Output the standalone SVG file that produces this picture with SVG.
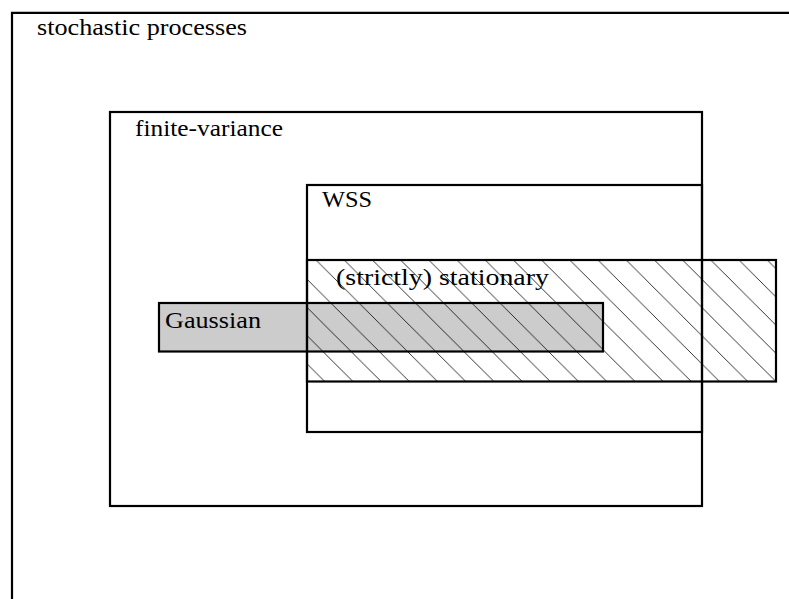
<svg xmlns="http://www.w3.org/2000/svg" width="789" height="599" viewBox="0 0 789 599">
<style>
.box{fill:none;stroke:#000;stroke-width:2.2}
text{font-family:'Liberation Serif','Times New Roman','DejaVu Serif',serif;font-size:23px;fill:#000}
</style>
<defs>
<pattern id="hatch" patternUnits="userSpaceOnUse" x="-0.4" y="0" width="28.2" height="28.2">
<path d="M-28.2,0 L28.2,56.4 M0,0 L28.2,28.2 M0,-28.2 L56.4,28.2" stroke="#000" stroke-width="0.8" fill="none"/>
</pattern>
</defs>
<rect width="789" height="599" fill="#fff"/>
<g id="stochastic">
<path class="box" d="M12,600 V12.8 H790"/>
<text font-family="Liberation Serif, serif" x="37" y="35" textLength="210" lengthAdjust="spacingAndGlyphs">stochastic processes</text>
</g>
<g id="finite-variance">
<rect class="box" x="110" y="112" width="592" height="394"/>
<text font-family="Liberation Serif, serif" x="135" y="136" textLength="148" lengthAdjust="spacingAndGlyphs">finite-variance</text>
</g>
<g id="gaussian-fill">
<rect x="159" y="303" width="444" height="48.5" fill="#ccc"/>
</g>
<g id="stationary">
<rect x="307" y="260" width="469" height="121.5" fill="url(#hatch)"/>
<rect class="box" x="307" y="260" width="469" height="121.5"/>
<text font-family="Liberation Serif, serif" x="336" y="285" textLength="213" lengthAdjust="spacingAndGlyphs">(strictly) stationary</text>
</g>
<g id="wss">
<rect class="box" x="307" y="185" width="395" height="247"/>
<text font-family="Liberation Serif, serif" x="322" y="207" textLength="50" lengthAdjust="spacingAndGlyphs">WSS</text>
</g>
<g id="gaussian">
<rect class="box" x="159" y="303" width="444" height="48.5"/>
<text font-family="Liberation Serif, serif" x="165" y="328" textLength="96" lengthAdjust="spacingAndGlyphs">Gaussian</text>
</g>
<g id="connectors"/>
</svg>
